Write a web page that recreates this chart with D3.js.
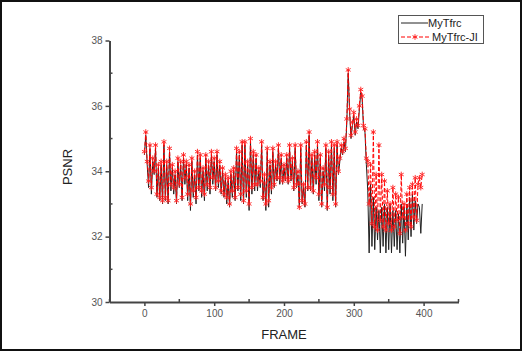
<!DOCTYPE html>
<html>
<head>
<meta charset="utf-8">
<script src="https://cdn.jsdelivr.net/npm/d3@7"></script>
<style>
  body { margin: 0; background: #fff; }
  text { font-family: "Liberation Sans", Arial, sans-serif; }
</style>
</head>
<body>
<svg id="chart" width="525" height="353"></svg>
<script>
// PSNR per frame, sampled every 2nd frame (0..398)
const frames = d3.range(0, 400, 2);

const myTfrc = [
  34.5, 35.1, 34.2, 33.5, 34.7, 33.3, 34.3, 33.9, 34.7, 33.2,
  34.1, 33.1, 34.2, 33.0, 34.8, 33.1, 34.2, 33.0, 34.6, 33.4,
  34.1, 33.3, 33.9, 33.0, 34.3, 33.5, 34.2, 33.1, 34.4, 33.6,
  34.2, 33.1, 34.1, 32.8, 34.3, 33.2, 33.9, 33.0, 34.5, 33.4,
  34.4, 33.2, 34.0, 33.1, 34.4, 33.4, 34.2, 33.3, 34.5, 33.6,
  34.3, 33.4, 34.5, 33.5, 34.2, 33.3, 34.0, 33.2, 33.8, 33.0,
  33.7, 32.9, 33.9, 33.2, 34.0, 33.1, 34.6, 33.4, 34.5, 33.1,
  34.8, 33.0, 34.8, 33.2, 34.2, 32.8, 34.9, 33.3, 34.5, 33.4,
  34.4, 33.4, 34.0, 33.5, 34.8, 33.1, 33.8, 32.8, 34.6, 32.9,
  34.2, 33.3, 34.6, 33.5, 34.2, 33.7, 34.7, 33.6, 34.4, 33.6,
  34.1, 33.7, 34.4, 33.6, 34.7, 33.7, 34.3, 33.4, 34.7, 33.5,
  33.9, 32.9, 34.7, 33.0, 33.5, 32.9, 34.8, 33.4, 35.1, 33.4,
  34.4, 33.3, 34.5, 33.6, 34.8, 33.1, 34.4, 32.9, 34.0, 33.4,
  34.7, 32.8, 34.5, 33.3, 34.8, 33.1, 34.7, 32.9, 34.8, 33.9,
  34.3, 34.7, 34.5, 34.9, 34.6, 35.5, 37.0, 35.8, 35.0, 35.4,
  35.7, 35.1, 35.5, 35.3, 35.9, 36.4, 36.2, 35.3, 35.2, 34.2,
  33.4, 31.5, 33.6, 31.7, 33.2, 31.6, 32.9, 31.9, 32.8, 31.5,
  32.9, 31.7, 33.0, 31.5, 32.9, 31.6, 33.0, 31.5, 32.8, 31.7,
  32.8, 31.6, 32.7, 31.5, 33.0, 31.8, 32.9, 31.4, 33.0, 31.9,
  33.2, 32.0, 33.3, 32.2, 33.1, 32.4, 33.0, 32.9, 32.1, 33.0
];

const myTfrcJI = [
  34.6, 35.2, 34.3, 33.7, 34.8, 33.5, 34.4, 34.0, 34.8, 33.3,
  34.2, 33.2, 34.3, 33.1, 34.9, 33.2, 34.3, 33.1, 34.7, 33.6,
  34.2, 33.5, 34.0, 33.1, 34.4, 33.6, 34.3, 33.2, 34.5, 33.8,
  34.3, 33.3, 34.2, 33.0, 34.4, 33.4, 34.0, 33.2, 34.6, 33.5,
  34.5, 33.4, 34.1, 33.3, 34.5, 33.6, 34.3, 33.5, 34.6, 33.8,
  34.4, 33.5, 34.6, 33.7, 34.3, 33.4, 34.1, 33.3, 33.9, 33.2,
  33.8, 33.0, 34.0, 33.4, 34.1, 33.2, 34.7, 33.5, 34.6, 33.3,
  34.9, 33.1, 34.9, 33.4, 34.3, 33.0, 35.0, 33.5, 34.6, 33.6,
  34.5, 33.6, 34.1, 33.7, 34.9, 33.2, 33.9, 33.0, 34.7, 33.1,
  34.3, 33.5, 34.7, 33.6, 34.3, 33.8, 34.8, 33.8, 34.5, 33.7,
  34.2, 33.8, 34.5, 33.7, 34.8, 33.8, 34.4, 33.5, 34.8, 33.6,
  34.0, 32.9, 34.8, 33.1, 33.6, 33.0, 34.9, 33.5, 35.2, 33.5,
  34.5, 33.4, 34.6, 33.8, 34.9, 33.3, 34.5, 33.0, 34.1, 33.6,
  34.8, 32.9, 34.6, 33.5, 34.9, 33.3, 34.8, 33.0, 34.9, 34.0,
  34.4, 34.8, 34.6, 35.0, 34.7, 35.6, 37.1, 35.9, 35.1, 35.5,
  35.8, 35.2, 35.6, 35.4, 36.0, 36.5, 36.3, 35.4, 35.3, 34.4,
  34.3, 33.0, 34.2, 32.4, 35.2, 32.3, 33.9, 32.2, 34.8, 32.5,
  33.9, 32.3, 33.7, 32.2, 33.4, 32.4, 33.0, 32.2, 33.5, 32.3,
  33.3, 32.5, 33.2, 32.1, 33.9, 32.6, 33.0, 32.2, 33.3, 32.4,
  33.5, 32.3, 33.6, 32.6, 33.8, 32.5, 33.6, 33.8, 33.5, 33.9
];

const seriesNames = ["MyTfrc", "MyTfrc-JI"];
const xMajorTicks = [0, 100, 200, 300, 400];
const xMinorTicks = [-50, 50, 150, 250, 350, 450];
const yMajorTicks = [30, 32, 34, 36, 38];
const yMinorTicks = [31, 33, 35, 37];

const svg = d3.select("#chart");

// outer frame
svg.append("rect")
  .attr("x", 1).attr("y", 1)
  .attr("width", 520).attr("height", 349)
  .attr("fill", "none")
  .attr("stroke", "#111")
  .attr("stroke-width", 2);

const x = d3.scaleLinear().domain([-50, 450]).range([109.5, 458.5]);
const y = d3.scaleLinear().domain([30, 38]).range([302, 40.5]);

const axisColor = "#444";

// axes (major ticks outward, minor inward)
const xAxisG = svg.append("g").attr("transform", `translate(0,${y(30)})`);
xAxisG.call(d3.axisBottom(x).tickValues(xMajorTicks).tickSize(4).tickSizeOuter(0).tickPadding(4));
xAxisG.selectAll(".minor")
  .data(xMinorTicks)
  .join("line")
  .attr("class", "minor")
  .attr("x1", (d) => x(d)).attr("x2", (d) => x(d))
  .attr("y1", 0).attr("y2", -3);

const yAxisG = svg.append("g").attr("transform", `translate(${x(-50)},0)`);
yAxisG.call(d3.axisLeft(y).tickValues(yMajorTicks).tickSize(4).tickSizeOuter(0).tickPadding(3));
yAxisG.selectAll(".minor")
  .data(yMinorTicks)
  .join("line")
  .attr("class", "minor")
  .attr("x1", 0).attr("x2", 3)
  .attr("y1", (d) => y(d)).attr("y2", (d) => y(d));

svg.selectAll(".domain").attr("stroke", axisColor).attr("stroke-width", 2);
svg.selectAll(".tick line, .minor").attr("stroke", axisColor).attr("stroke-width", 1.5);
svg.selectAll(".tick text")
  .attr("fill", "#555")
  .style("font-size", "10px")
  .style("font-family", "'Liberation Sans', Arial, sans-serif");

// axis titles
svg.append("text")
  .attr("x", 284).attr("y", 339)
  .attr("text-anchor", "middle")
  .attr("fill", "#222")
  .style("font-size", "13px")
  .text("FRAME");

svg.append("text")
  .attr("transform", "translate(72,167) rotate(-90)")
  .attr("text-anchor", "middle")
  .attr("fill", "#222")
  .style("font-size", "13px")
  .text("PSNR");

// series
const line = d3.line()
  .x((d) => x(d[0]))
  .y((d) => y(d[1]));

const blackData = frames.map((f, i) => [f, myTfrc[i]]);
const redData = frames.map((f, i) => [f, myTfrcJI[i]]);

svg.append("path")
  .datum(blackData)
  .attr("d", line)
  .attr("fill", "none")
  .attr("stroke", "#222")
  .attr("stroke-width", 1);

svg.append("path")
  .datum(redData)
  .attr("d", line)
  .attr("fill", "none")
  .attr("stroke", "#ff0000")
  .attr("stroke-width", 1)
  .attr("stroke-dasharray", "4,2");

const star = d3.symbol().type(d3.symbolAsterisk).size(22);
svg.append("g")
  .selectAll("path")
  .data(redData)
  .join("path")
  .attr("transform", (d) => `translate(${x(d[0])},${y(d[1])})`)
  .attr("d", star)
  .attr("fill", "none")
  .attr("stroke", "#ff2020")
  .attr("stroke-width", 0.9);

// legend
const legend = svg.append("g");
legend.append("rect")
  .attr("x", 398.5).attr("y", 15.5)
  .attr("width", 85).attr("height", 28)
  .attr("fill", "#fff")
  .attr("stroke", "#555")
  .attr("stroke-width", 1);

legend.append("line")
  .attr("x1", 401).attr("x2", 428)
  .attr("y1", 23).attr("y2", 23)
  .attr("stroke", "#222").attr("stroke-width", 1);
legend.append("line")
  .attr("x1", 401).attr("x2", 430)
  .attr("y1", 37).attr("y2", 37)
  .attr("stroke", "#ff0000").attr("stroke-width", 1)
  .attr("stroke-dasharray", "4,2");
legend.append("path")
  .attr("transform", "translate(415,37)")
  .attr("d", star)
  .attr("fill", "none")
  .attr("stroke", "#ff2020")
  .attr("stroke-width", 0.9);

legend.selectAll("text.leg")
  .data(seriesNames)
  .join("text")
  .attr("class", "leg")
  .attr("x", (d, i) => (i === 0 ? 428 : 432))
  .attr("y", (d, i) => 27 + i * 14)
  .attr("fill", "#222")
  .style("font-size", "11px")
  .text((d) => d);
</script>
</body>
</html>
